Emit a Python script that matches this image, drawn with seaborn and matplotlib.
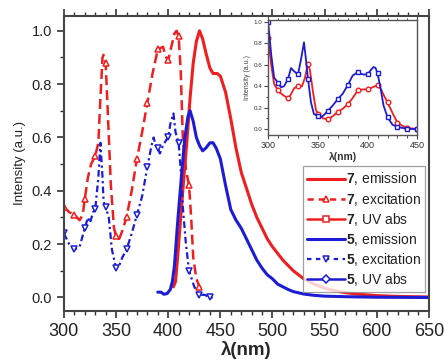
import numpy as np
import pandas as pd
import matplotlib
matplotlib.use("Agg")
import matplotlib.pyplot as plt
from matplotlib.lines import Line2D
from matplotlib.ticker import MultipleLocator
import seaborn as sns

# main panel data (wavelength nm, normalised intensity)
em7_x = [405, 407, 409, 412, 415, 418, 421, 424, 427, 430, 433, 436, 440, 443, 447, 450,
         455, 460, 465, 470, 475, 480, 485, 490, 495, 500, 510, 520, 530, 540, 550, 560,
         570, 580, 600, 620, 650]
em7_y = [0.04, 0.06, 0.15, 0.30, 0.45, 0.59, 0.75, 0.88, 0.96, 1.00, 0.97, 0.92, 0.86, 0.84, 0.84, 0.83,
         0.77, 0.67, 0.56, 0.47, 0.41, 0.35, 0.30, 0.26, 0.22, 0.19, 0.14, 0.10, 0.07, 0.05, 0.035, 0.025,
         0.018, 0.013, 0.007, 0.004, 0.002]

ex7_x = [300, 305, 310, 315, 318, 320, 323, 326, 330, 333, 335, 337, 338, 340, 342, 345, 348, 350,
         353, 356, 360, 365, 370, 375, 380, 385, 390, 395, 398, 400, 403, 406, 408, 410, 412, 414,
         417, 420, 422, 424, 427, 430, 432]
ex7_y = [0.34, 0.32, 0.31, 0.29, 0.31, 0.37, 0.45, 0.50, 0.53, 0.58, 0.75, 0.90, 0.91, 0.88, 0.70, 0.42, 0.26, 0.23,
         0.22, 0.25, 0.30, 0.40, 0.52, 0.62, 0.73, 0.84, 0.93, 0.94, 0.90, 0.89, 0.94, 0.99, 1.00, 0.98, 0.85, 0.60,
         0.48, 0.42, 0.30, 0.15, 0.07, 0.04, 0.03]

em5_x = [390, 393, 396, 399, 402, 404, 406, 409, 413, 416, 419, 421, 424, 427, 430, 433, 436, 440,
         443, 446, 450, 455, 460, 465, 470, 475, 480, 485, 490, 495, 500, 505, 510, 515, 520, 530,
         540, 550, 570, 600, 650]
em5_y = [0.02, 0.02, 0.012, 0.015, 0.03, 0.06, 0.12, 0.28, 0.47, 0.60, 0.68, 0.70, 0.66, 0.60, 0.57, 0.55, 0.56, 0.58,
         0.58, 0.56, 0.52, 0.42, 0.33, 0.29, 0.26, 0.22, 0.18, 0.14, 0.11, 0.085, 0.07, 0.05, 0.04, 0.03, 0.022, 0.013,
         0.008, 0.005, 0.003, 0.001, 0.0]

ex5_x = [300, 305, 310, 315, 320, 323, 325, 328, 330, 333, 335, 337, 338, 340, 343, 346, 350, 353,
         356, 360, 365, 370, 375, 380, 384, 386, 388, 390, 392, 395, 398, 400, 402, 405, 407, 410,
         412, 414, 417, 420, 425, 430, 435, 440, 443]
ex5_y = [0.24, 0.20, 0.18, 0.19, 0.26, 0.30, 0.28, 0.32, 0.33, 0.45, 0.58, 0.45, 0.36, 0.34, 0.30, 0.18, 0.11, 0.12,
         0.15, 0.18, 0.24, 0.31, 0.38, 0.49, 0.57, 0.60, 0.57, 0.56, 0.54, 0.57, 0.59, 0.60, 0.65, 0.69, 0.62, 0.58,
         0.48, 0.34, 0.20, 0.10, 0.04, 0.01, 0.01, 0.0, 0.0]

# inset: UV absorption
uv7_x = [300, 303, 306, 310, 312, 316, 320, 322, 326, 330, 334, 337, 340, 342, 345, 348, 350, 355, 360,
         365, 370, 375, 380, 385, 390, 395, 400, 405, 410, 413, 416, 420, 425, 430, 435, 440, 445, 450]
uv7_y = [0.85, 0.60, 0.42, 0.36, 0.34, 0.31, 0.29, 0.31, 0.38, 0.40, 0.40, 0.48, 0.61, 0.55, 0.35, 0.18, 0.14, 0.10, 0.09,
         0.12, 0.16, 0.19, 0.23, 0.29, 0.36, 0.37, 0.37, 0.39, 0.41, 0.38, 0.32, 0.25, 0.15, 0.06, 0.03, 0.01, 0.005, 0.0]

uv5_x = [300, 303, 306, 310, 313, 316, 320, 323, 326, 330, 333, 336, 338, 340, 343, 346, 350, 353, 356,
         360, 365, 370, 375, 380, 385, 390, 395, 400, 403, 406, 408, 410, 413, 416, 420, 425, 430, 435,
         440, 445, 450]
uv5_y = [1.00, 0.70, 0.48, 0.43, 0.39, 0.40, 0.47, 0.57, 0.54, 0.51, 0.65, 0.81, 0.65, 0.47, 0.25, 0.14, 0.12, 0.11, 0.13,
         0.17, 0.22, 0.28, 0.33, 0.41, 0.50, 0.53, 0.51, 0.51, 0.55, 0.58, 0.57, 0.52, 0.38, 0.22, 0.11, 0.04, 0.02, 0.01,
         0.0, 0.0, 0.0]

labels = ["7, emission", "7, excitation", "7, UV abs", "5, emission", "5, excitation", "5, UV abs"]

RED = "#f01e1e"
BLUE = "#1c1cd6"

sns.set_style("ticks")
plt.rcParams["font.family"] = ["Liberation Sans", "DejaVu Sans"]
plt.rcParams["mathtext.fontset"] = "custom"
plt.rcParams["mathtext.rm"] = "Liberation Sans"
plt.rcParams["mathtext.bf"] = "Liberation Sans:bold"


def every10(xs):
    return [i for i, v in enumerate(xs) if v % 10 == 0]


def draw(ax, xs, ys, **kw):
    sns.lineplot(x=xs, y=ys, ax=ax, sort=False, estimator=None, legend=False, **kw)


fig = plt.figure(figsize=(4.44, 3.61), dpi=100)
ax = fig.add_axes([0.144, 0.139, 0.822, 0.817])

draw(ax, em7_x, em7_y, color=RED, linewidth=2.2)
draw(ax, ex7_x, ex7_y, color=RED, linewidth=1.8, linestyle=(0, (4, 2)),
     marker="^", markevery=every10(ex7_x), markersize=4.8, markerfacecolor="white",
     markeredgecolor=RED, markeredgewidth=1.1)
draw(ax, em5_x, em5_y, color=BLUE, linewidth=2.2)
draw(ax, ex5_x, ex5_y, color=BLUE, linewidth=1.6, linestyle=(0, (3, 1.5, 1, 1.5)),
     marker="v", markevery=every10(ex5_x), markersize=4.8, markerfacecolor="white",
     markeredgecolor=BLUE, markeredgewidth=1.1)

ax.set_xlim(300, 650)
ax.set_ylim(-0.05, 1.056)
ax.xaxis.set_major_locator(MultipleLocator(50))
ax.xaxis.set_minor_locator(MultipleLocator(10))
ax.yaxis.set_major_locator(MultipleLocator(0.2))
ax.yaxis.set_minor_locator(MultipleLocator(0.1))
ax.yaxis.set_major_formatter(matplotlib.ticker.FormatStrFormatter("%.1f"))
ax.tick_params(axis="x", which="both", direction="out", top=True, labelsize=13, colors="#333333",
               labelcolor="#222222")
ax.tick_params(axis="y", which="both", direction="out", right=False, labelsize=10.5, colors="#333333",
               labelcolor="#222222")
ax.tick_params(which="major", length=5, width=1.2)
ax.tick_params(which="minor", length=3, width=1.0)
for s in ax.spines.values():
    s.set_linewidth(1.5)
    s.set_color("#444444")
ax.set_xlabel("λ(nm)", fontsize=13.5, fontweight="bold", labelpad=1)
ax.set_ylabel("Intensity (a.u.)", fontsize=9.5, labelpad=4, color="#222222")

# legend
handles = [
    Line2D([], [], color=RED, linewidth=2.2),
    Line2D([], [], color=RED, linewidth=1.8, linestyle=(0, (2.5, 2)), marker="^", markersize=4.5,
           markerfacecolor="white", markeredgewidth=1.1),
    Line2D([], [], color=RED, linewidth=1.8, marker="s", markersize=4.2, markerfacecolor="white",
           markeredgewidth=1.1),
    Line2D([], [], color=BLUE, linewidth=2.2),
    Line2D([], [], color=BLUE, linewidth=1.6, linestyle=(0, (2, 2)), marker="v", markersize=4.5,
           markerfacecolor="white", markeredgewidth=1.1),
    Line2D([], [], color=BLUE, linewidth=1.8, marker="D", markersize=4, markerfacecolor="white",
           markeredgewidth=1.1),
]
leg_text = ["$\\mathbf{%s}$%s" % (t.split(",")[0], "," + t.split(",", 1)[1]) for t in labels]
leg = ax.legend(handles, leg_text, loc="upper left", bbox_to_anchor=(0.655, 0.49), fontsize=10,
                frameon=True, fancybox=False, handlelength=2.7, handletextpad=0.1,
                labelspacing=0.22, borderpad=0.3, borderaxespad=0)
leg.get_frame().set_edgecolor("#888888")
leg.get_frame().set_linewidth(0.9)
for t in leg.get_texts():
    t.set_color("#222222")

# inset
axi = fig.add_axes([0.604, 0.626, 0.336, 0.319])
draw(axi, uv7_x, uv7_y, color=RED, linewidth=1.3, marker="o", markevery=every10(uv7_x),
     markersize=3.3, markerfacecolor="white", markeredgecolor=RED, markeredgewidth=1.0)
draw(axi, uv5_x, uv5_y, color=BLUE, linewidth=1.3, marker="s", markevery=every10(uv5_x),
     markersize=3.2, markerfacecolor="white", markeredgecolor=BLUE, markeredgewidth=1.0)
axi.set_xlim(300, 450)
axi.set_ylim(-0.056, 1.02)
axi.xaxis.set_major_locator(MultipleLocator(50))
axi.xaxis.set_minor_locator(MultipleLocator(10))
axi.yaxis.set_major_locator(MultipleLocator(0.2))
axi.yaxis.set_minor_locator(MultipleLocator(0.1))
axi.yaxis.set_major_formatter(matplotlib.ticker.FormatStrFormatter("%.1f"))
axi.tick_params(axis="x", which="both", direction="out", top=True, labelsize=6.5, pad=1.5)
axi.tick_params(axis="y", which="both", direction="out", right=False, labelsize=4.5, pad=1)
axi.tick_params(which="major", length=3, width=0.8, colors="#444444", labelcolor="#333333")
axi.tick_params(which="minor", length=1.8, width=0.7, colors="#444444")
for s in axi.spines.values():
    s.set_linewidth(1.0)
    s.set_color("#555555")
axi.set_xlabel("λ(nm)", fontsize=7.5, fontweight="bold", labelpad=1, color="#333333")
axi.set_ylabel("Intensity (a.u.)", fontsize=5, labelpad=2, color="#444444")

fig.savefig("out.png", dpi=100)
